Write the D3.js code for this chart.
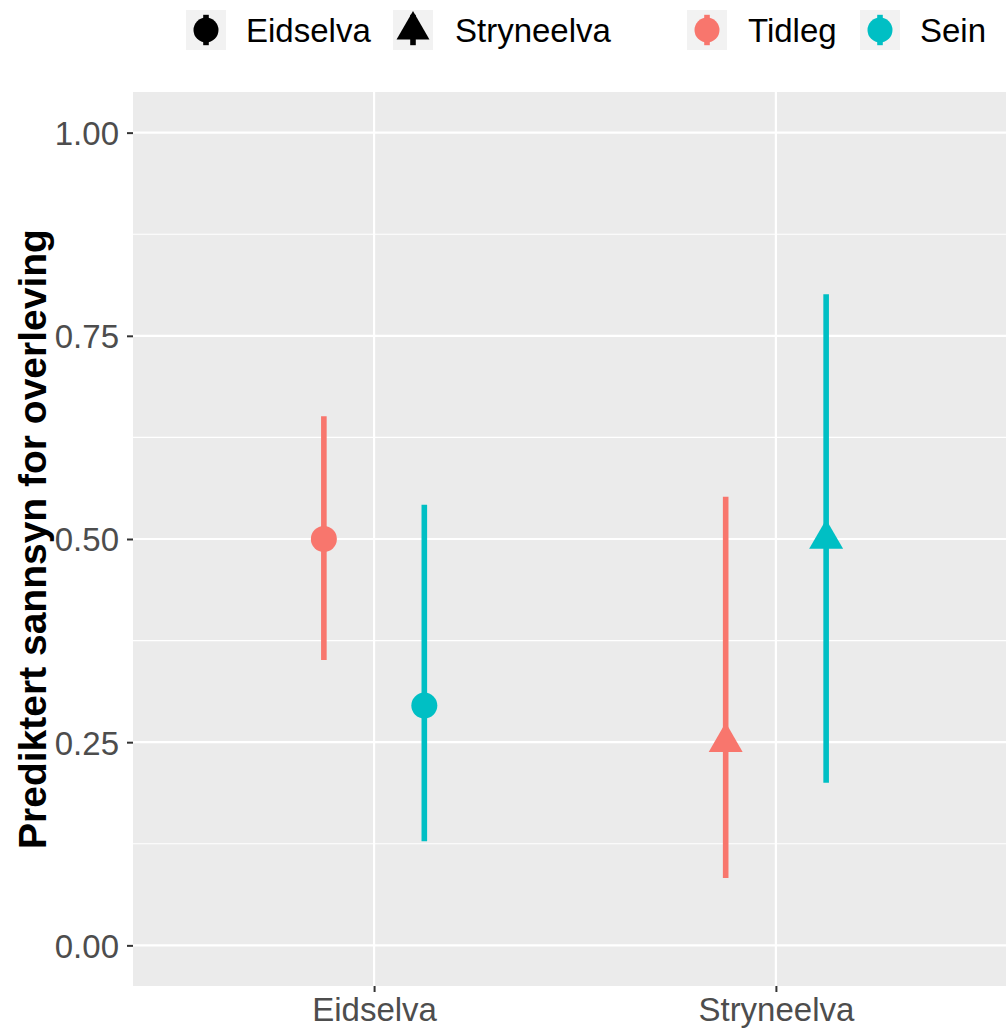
<!DOCTYPE html>
<html>
<head>
<meta charset="utf-8">
<script src="https://cdn.jsdelivr.net/npm/d3@7"></script>
<style>
  html, body { margin: 0; padding: 0; background: #ffffff; }
  svg { display: block; font-family: "Liberation Sans", Arial, sans-serif; }
</style>
</head>
<body>
<svg id="chart" width="1006" height="1029"></svg>
<script>
// ---- data ----
const rivers = ["Eidselva", "Stryneelva"];
const groups = ["Tidleg", "Sein"];
const river = ["Eidselva", "Eidselva", "Stryneelva", "Stryneelva"];
const group = ["Tidleg", "Sein", "Tidleg", "Sein"];
const estimate = [0.50, 0.295, 0.25, 0.50];
const lower = [0.351, 0.128, 0.083, 0.200];
const upper = [0.651, 0.542, 0.552, 0.801];
const yTicks = [0, 0.25, 0.5, 0.75, 1.0];
const yMinor = [0.125, 0.375, 0.625, 0.875];
const colours = ["#F8766D", "#00BFC4"];

const rows = river.map((r, i) => ({river: r, group: group[i], est: estimate[i], lo: lower[i], hi: upper[i]}));

// ---- layout ----
const svg = d3.select("#chart");
const panel = {left: 133, top: 92, right: 1017, bottom: 986};

const x = d3.scaleLinear().domain([0.4, 2.6]).range([panel.left, panel.right]);
const y = d3.scaleLinear().domain([-0.05, 1.05]).range([panel.bottom, panel.top]);
const xPos = d3.scaleOrdinal().domain(rivers).range([1, 2]);
const dodge = d3.scaleOrdinal().domain(groups).range([-0.125, 0.125]);
const colour = d3.scaleOrdinal().domain(groups).range(colours);
const shapeType = d3.scaleOrdinal().domain(rivers).range(["circle", "triangle"]);

// panel background
svg.append("rect")
  .attr("x", panel.left).attr("y", panel.top)
  .attr("width", panel.right - panel.left).attr("height", panel.bottom - panel.top)
  .attr("fill", "#EBEBEB");

// minor grid
svg.append("g").selectAll("line").data(yMinor).join("line")
  .attr("x1", panel.left).attr("x2", panel.right)
  .attr("y1", d => y(d)).attr("y2", d => y(d))
  .attr("stroke", "#ffffff").attr("stroke-width", 1.1);

// major grid
svg.append("g").selectAll("line").data(yTicks).join("line")
  .attr("x1", panel.left).attr("x2", panel.right)
  .attr("y1", d => y(d)).attr("y2", d => y(d))
  .attr("stroke", "#ffffff").attr("stroke-width", 2.2);
svg.append("g").selectAll("line").data(rivers).join("line")
  .attr("x1", d => x(xPos(d))).attr("x2", d => x(xPos(d)))
  .attr("y1", panel.top).attr("y2", panel.bottom)
  .attr("stroke", "#ffffff").attr("stroke-width", 2.2);

// axes
const yAxis = svg.append("g")
  .attr("transform", `translate(${panel.left},0)`)
  .call(d3.axisLeft(y).tickValues(yTicks).tickFormat(d3.format(".2f")).tickSize(6).tickPadding(8));
yAxis.select(".domain").remove();
yAxis.selectAll(".tick line").attr("stroke", "#333333").attr("stroke-width", 2);
yAxis.selectAll(".tick text").attr("fill", "#4D4D4D").attr("font-size", 33)
  .attr("font-family", "Liberation Sans, Arial, sans-serif").attr("dy", "0.36em");

const xAxis = svg.append("g")
  .attr("transform", `translate(0,${panel.bottom})`)
  .call(d3.axisBottom(d3.scalePoint().domain(rivers).range([x(1), x(2)])).tickSize(6).tickPadding(6));
xAxis.select(".domain").remove();
xAxis.selectAll(".tick line").attr("stroke", "#333333").attr("stroke-width", 2);
xAxis.selectAll(".tick text").attr("fill", "#4D4D4D").attr("font-size", 33)
  .attr("font-family", "Liberation Sans, Arial, sans-serif").attr("dy", "0.71em");

// y title
svg.append("text")
  .attr("transform", `translate(46,${(panel.top + panel.bottom) / 2}) rotate(-90)`)
  .attr("text-anchor", "middle")
  .attr("font-size", 39).attr("font-weight", "bold").attr("fill", "#000000")
  .text("Prediktert sannsyn for overleving");

// marks
function trianglePath(cx, cy, r) {
  const w = r * Math.sqrt(3) / 2;
  return `M${cx},${cy - r}L${cx + w},${cy + r / 2}L${cx - w},${cy + r / 2}Z`;
}
function drawShape(g, type, cx, cy, fill, circR, triR) {
  if (type === "circle") {
    g.append("circle").attr("cx", cx).attr("cy", cy).attr("r", circR).attr("fill", fill);
  } else {
    g.append("path").attr("d", trianglePath(cx, cy, triR)).attr("fill", fill);
  }
}

const marks = svg.append("g");
rows.forEach(d => {
  const cx = x(xPos(d.river) + dodge(d.group));
  marks.append("line")
    .attr("x1", cx).attr("x2", cx)
    .attr("y1", y(d.lo)).attr("y2", y(d.hi))
    .attr("stroke", colour(d.group)).attr("stroke-width", 5.6);
  drawShape(marks, shapeType(d.river), cx, y(d.est), colour(d.group), 13, 19.6);
});

// legend
const legendItems = [
  {label: "Eidselva", type: "circle", fill: "#000000", key: 186, text: 246},
  {label: "Stryneelva", type: "triangle", fill: "#000000", key: 393, text: 455},
  {label: "Tidleg", type: "circle", fill: colour("Tidleg"), key: 687, text: 748},
  {label: "Sein", type: "circle", fill: colour("Sein"), key: 860, text: 920}
];
const lg = svg.append("g");
const keyTop = 10, keySize = 40;
legendItems.forEach(it => {
  lg.append("rect").attr("x", it.key).attr("y", keyTop).attr("width", keySize).attr("height", keySize)
    .attr("fill", "#F2F2F2");
  const cx = it.key + keySize / 2, cy = keyTop + keySize / 2;
  lg.append("line").attr("x1", cx).attr("x2", cx)
    .attr("y1", keyTop + keySize * 0.12).attr("y2", keyTop + keySize * 0.88)
    .attr("stroke", it.fill).attr("stroke-width", 5.6);
  drawShape(lg, it.type, cx, cy, it.fill, 12.5, 19);
  lg.append("text").attr("x", it.text).attr("y", 42)
    .attr("font-size", 33).attr("fill", "#000000").text(it.label);
});
</script>
</body>
</html>
